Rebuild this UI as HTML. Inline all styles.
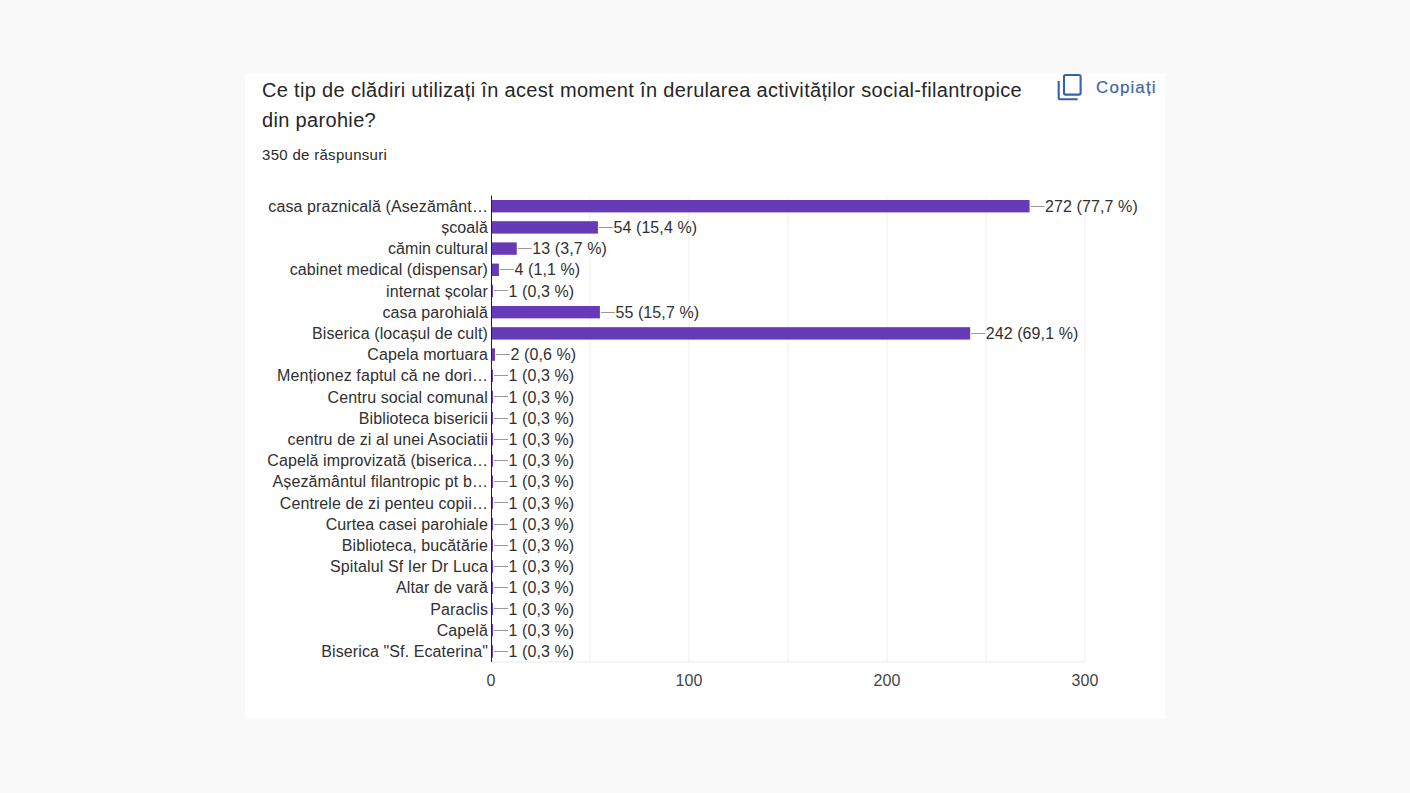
<!DOCTYPE html>
<html><head><meta charset="utf-8">
<style>
html,body{margin:0;padding:0;}
body{width:1410px;height:793px;background:#f9f9f9;position:relative;overflow:hidden;font-family:"Liberation Sans",sans-serif;}
.card{position:absolute;left:245px;top:73px;width:920px;height:646px;background:#fff;border-top:1px solid #fcfcfc;box-sizing:border-box;}
.title{position:absolute;left:262px;top:75px;width:780px;font-size:20px;line-height:30px;color:#262626;letter-spacing:0.33px;}
.resp{position:absolute;left:262px;top:145px;font-size:15px;line-height:20px;color:#2a2a2a;letter-spacing:0.3px;}
.copy{position:absolute;left:1096px;top:76.5px;font-size:17px;line-height:22px;color:#44669f;letter-spacing:1.1px;-webkit-text-stroke:0.2px #44669f;}
svg{position:absolute;left:0;top:0;}
text{font-family:"Liberation Sans",sans-serif;font-size:16px;fill:#303030;letter-spacing:0.1px;}
</style></head><body>
<div class="card"></div>
<div class="title">Ce tip de clădiri utilizați în acest moment în derularea activităților social-filantropice din parohie?</div>
<div class="resp">350 de răspunsuri</div>
<svg width="1410" height="793" viewBox="0 0 1410 793">
<g fill="none" stroke="#3862a8" stroke-width="2.1" stroke-linejoin="round">
<rect x="1064" y="75" width="16.6" height="19.6" rx="1.5"/>
<path d="M1058.7 81 V98 Q1058.7 99.2 1060 99.2 H1077.7"/>
</g>
<rect x="589.50" y="195.60" width="1" height="466.33" fill="#f0f0f0"/>
<rect x="688.50" y="195.60" width="1" height="466.33" fill="#f0f0f0"/>
<rect x="787.50" y="195.60" width="1" height="466.33" fill="#f0f0f0"/>
<rect x="886.50" y="195.60" width="1" height="466.33" fill="#f0f0f0"/>
<rect x="985.50" y="195.60" width="1" height="466.33" fill="#f0f0f0"/>
<rect x="1084.50" y="195.60" width="1" height="466.33" fill="#f0f0f0"/>
<rect x="491.00" y="661.43" width="594.00" height="1" fill="#ebebeb"/>
<rect x="491.00" y="200.00" width="538.56" height="12.40" fill="#673ab7"/>
<rect x="1030.56" y="206.00" width="14" height="1" fill="#9a9a9a"/>
<text x="1045.06" y="211.85" class="v">272 (77,7 %)</text>
<text x="488" y="211.85" class="l" text-anchor="end">casa praznicală (Asezământ…</text>
<rect x="491.00" y="221.20" width="106.92" height="12.40" fill="#673ab7"/>
<rect x="598.92" y="227.00" width="14" height="1" fill="#9a9a9a"/>
<text x="613.42" y="233.05" class="v">54 (15,4 %)</text>
<text x="488" y="233.05" class="l" text-anchor="end">școală</text>
<rect x="491.00" y="242.39" width="25.74" height="12.40" fill="#673ab7"/>
<rect x="517.74" y="248.00" width="14" height="1" fill="#9a9a9a"/>
<text x="532.24" y="254.24" class="v">13 (3,7 %)</text>
<text x="488" y="254.24" class="l" text-anchor="end">cămin cultural</text>
<rect x="491.00" y="263.59" width="7.92" height="12.40" fill="#673ab7"/>
<rect x="499.92" y="269.00" width="14" height="1" fill="#9a9a9a"/>
<text x="514.42" y="275.44" class="v">4 (1,1 %)</text>
<text x="488" y="275.44" class="l" text-anchor="end">cabinet medical (dispensar)</text>
<rect x="491.00" y="284.79" width="1.98" height="12.40" fill="#673ab7"/>
<rect x="493.98" y="290.00" width="14" height="1" fill="#9a9a9a"/>
<text x="508.48" y="296.64" class="v">1 (0,3 %)</text>
<text x="488" y="296.64" class="l" text-anchor="end">internat școlar</text>
<rect x="491.00" y="305.98" width="108.90" height="12.40" fill="#673ab7"/>
<rect x="600.90" y="312.00" width="14" height="1" fill="#9a9a9a"/>
<text x="615.40" y="317.83" class="v">55 (15,7 %)</text>
<text x="488" y="317.83" class="l" text-anchor="end">casa parohială</text>
<rect x="491.00" y="327.18" width="479.16" height="12.40" fill="#673ab7"/>
<rect x="971.16" y="333.00" width="14" height="1" fill="#9a9a9a"/>
<text x="985.66" y="339.03" class="v">242 (69,1 %)</text>
<text x="488" y="339.03" class="l" text-anchor="end">Biserica (locașul de cult)</text>
<rect x="491.00" y="348.38" width="3.96" height="12.40" fill="#673ab7"/>
<rect x="495.96" y="354.00" width="14" height="1" fill="#9a9a9a"/>
<text x="510.46" y="360.23" class="v">2 (0,6 %)</text>
<text x="488" y="360.23" class="l" text-anchor="end">Capela mortuara</text>
<rect x="491.00" y="369.57" width="1.98" height="12.40" fill="#673ab7"/>
<rect x="493.98" y="375.00" width="14" height="1" fill="#9a9a9a"/>
<text x="508.48" y="381.42" class="v">1 (0,3 %)</text>
<text x="488" y="381.42" class="l" text-anchor="end">Menționez faptul că ne dori…</text>
<rect x="491.00" y="390.77" width="1.98" height="12.40" fill="#673ab7"/>
<rect x="493.98" y="396.00" width="14" height="1" fill="#9a9a9a"/>
<text x="508.48" y="402.62" class="v">1 (0,3 %)</text>
<text x="488" y="402.62" class="l" text-anchor="end">Centru social comunal</text>
<rect x="491.00" y="411.97" width="1.98" height="12.40" fill="#673ab7"/>
<rect x="493.98" y="418.00" width="14" height="1" fill="#9a9a9a"/>
<text x="508.48" y="423.82" class="v">1 (0,3 %)</text>
<text x="488" y="423.82" class="l" text-anchor="end">Biblioteca bisericii</text>
<rect x="491.00" y="433.17" width="1.98" height="12.40" fill="#673ab7"/>
<rect x="493.98" y="439.00" width="14" height="1" fill="#9a9a9a"/>
<text x="508.48" y="445.02" class="v">1 (0,3 %)</text>
<text x="488" y="445.02" class="l" text-anchor="end">centru de zi al unei Asociatii</text>
<rect x="491.00" y="454.36" width="1.98" height="12.40" fill="#673ab7"/>
<rect x="493.98" y="460.00" width="14" height="1" fill="#9a9a9a"/>
<text x="508.48" y="466.21" class="v">1 (0,3 %)</text>
<text x="488" y="466.21" class="l" text-anchor="end">Capelă improvizată (biserica…</text>
<rect x="491.00" y="475.56" width="1.98" height="12.40" fill="#673ab7"/>
<rect x="493.98" y="481.00" width="14" height="1" fill="#9a9a9a"/>
<text x="508.48" y="487.41" class="v">1 (0,3 %)</text>
<text x="488" y="487.41" class="l" text-anchor="end">Așezământul filantropic pt b…</text>
<rect x="491.00" y="496.76" width="1.98" height="12.40" fill="#673ab7"/>
<rect x="493.98" y="502.00" width="14" height="1" fill="#9a9a9a"/>
<text x="508.48" y="508.61" class="v">1 (0,3 %)</text>
<text x="488" y="508.61" class="l" text-anchor="end">Centrele de zi penteu copii…</text>
<rect x="491.00" y="517.95" width="1.98" height="12.40" fill="#673ab7"/>
<rect x="493.98" y="524.00" width="14" height="1" fill="#9a9a9a"/>
<text x="508.48" y="529.80" class="v">1 (0,3 %)</text>
<text x="488" y="529.80" class="l" text-anchor="end">Curtea casei parohiale</text>
<rect x="491.00" y="539.15" width="1.98" height="12.40" fill="#673ab7"/>
<rect x="493.98" y="545.00" width="14" height="1" fill="#9a9a9a"/>
<text x="508.48" y="551.00" class="v">1 (0,3 %)</text>
<text x="488" y="551.00" class="l" text-anchor="end">Biblioteca, bucătărie</text>
<rect x="491.00" y="560.35" width="1.98" height="12.40" fill="#673ab7"/>
<rect x="493.98" y="566.00" width="14" height="1" fill="#9a9a9a"/>
<text x="508.48" y="572.20" class="v">1 (0,3 %)</text>
<text x="488" y="572.20" class="l" text-anchor="end">Spitalul Sf Ier Dr Luca</text>
<rect x="491.00" y="581.54" width="1.98" height="12.40" fill="#673ab7"/>
<rect x="493.98" y="587.00" width="14" height="1" fill="#9a9a9a"/>
<text x="508.48" y="593.39" class="v">1 (0,3 %)</text>
<text x="488" y="593.39" class="l" text-anchor="end">Altar de vară</text>
<rect x="491.00" y="602.74" width="1.98" height="12.40" fill="#673ab7"/>
<rect x="493.98" y="608.00" width="14" height="1" fill="#9a9a9a"/>
<text x="508.48" y="614.59" class="v">1 (0,3 %)</text>
<text x="488" y="614.59" class="l" text-anchor="end">Paraclis</text>
<rect x="491.00" y="623.94" width="1.98" height="12.40" fill="#673ab7"/>
<rect x="493.98" y="630.00" width="14" height="1" fill="#9a9a9a"/>
<text x="508.48" y="635.79" class="v">1 (0,3 %)</text>
<text x="488" y="635.79" class="l" text-anchor="end">Capelă</text>
<rect x="491.00" y="645.14" width="1.98" height="12.40" fill="#673ab7"/>
<rect x="493.98" y="651.00" width="14" height="1" fill="#9a9a9a"/>
<text x="508.48" y="656.99" class="v">1 (0,3 %)</text>
<text x="488" y="656.99" class="l" text-anchor="end">Biserica &quot;Sf. Ecaterina&quot;</text>
<rect x="491.00" y="195.60" width="1" height="466.33" fill="#222"/>
<text x="491.00" y="686" class="v" text-anchor="middle" style="fill:#444">0</text>
<text x="689.00" y="686" class="v" text-anchor="middle" style="fill:#444">100</text>
<text x="887.00" y="686" class="v" text-anchor="middle" style="fill:#444">200</text>
<text x="1085.00" y="686" class="v" text-anchor="middle" style="fill:#444">300</text>
</svg>
<div class="copy">Copiați</div>
</body></html>
